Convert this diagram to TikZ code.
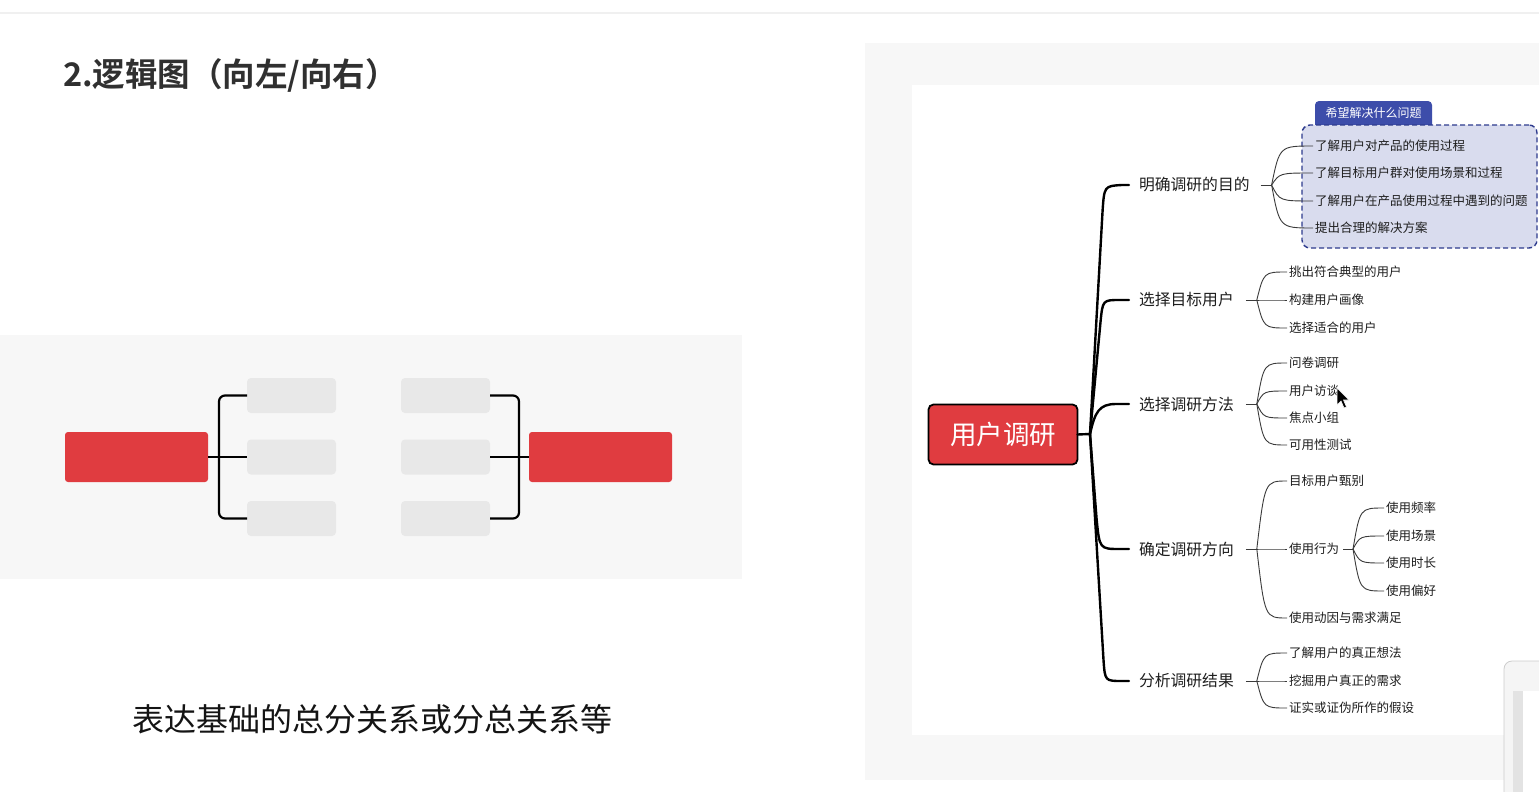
\documentclass[tikz,border=0pt]{standalone}
\usepackage{fontspec}
\setmainfont{Noto Sans CJK SC}[BoldFont={Noto Sans CJK SC Bold}]
\usetikzlibrary{calc}
\definecolor{panelgray}{HTML}{F7F7F7}
\definecolor{boxgray}{HTML}{E8E8E8}
\definecolor{myred}{HTML}{E03C40}
\definecolor{titlegray}{HTML}{303030}
\definecolor{lav}{HTML}{D9DCEE}
\definecolor{navy}{HTML}{2E3B8E}
\definecolor{tabblue}{HTML}{3D4DAA}
\definecolor{ink}{HTML}{1E1E1E}
\definecolor{subink}{HTML}{3A3A3A}
\begin{document}
\begin{tikzpicture}[x=1pt,y=-1pt,
  every node/.style={inner sep=0pt, outer sep=0pt},
  lbox/.style={fill=myred, rounded corners=3pt, minimum width=143pt, minimum height=50pt},
  gbox/.style={fill=boxgray, rounded corners=4pt, minimum width=89pt, minimum height=35pt},
  bracket/.style={draw=black, line width=2.2pt, rounded corners=6pt},
  mainlbl/.style={anchor=west, text=ink, font=\fontsize{15.8}{16}\selectfont},
  sublbl/.style={anchor=west, text=ink, font=\fontsize{12.5}{13}\selectfont},
  mainline/.style={draw=black, line width=2.4pt, line cap=round},
  subline/.style={draw=subink, line width=0.9pt},
]
\useasboundingbox (0,0) rectangle (1539,792);
\fill[white] (0,0) rectangle (1539,792);
\draw[draw=black!6, line width=2pt] (0,13) -- (1539,13);

% ---------- left panel ----------
\fill[panelgray] (0,335) rectangle (742,579);
\node[lbox] (L) at (136.5,457) {};
\node[gbox] (a1) at (291.5,395.5) {};
\node[gbox] (a2) at (291.5,457) {};
\node[gbox] (a3) at (291.5,518.5) {};
\node[gbox] (b1) at (445.5,395.5) {};
\node[gbox] (b2) at (445.5,457) {};
\node[gbox] (b3) at (445.5,518.5) {};
\node[lbox] (R) at (600.5,457) {};
\draw[bracket] (a1.west) -- ++(-28,0) |- (a3.west);
\draw[draw=black, line width=2.2pt] (L.east) -- (a2.west);
\draw[bracket] (b1.east) -- ++(29,0) |- (b3.east);
\draw[draw=black, line width=2.2pt] (b2.east) -- (R.west);

\node[anchor=west, text=titlegray, font=\fontsize{32.5}{38}\selectfont\bfseries] (title) at (63,75) {2.逻辑图（向左/向右）};
\node[text=black!92, font=\fontsize{32}{38}\selectfont] (caption) at (372,719) {表达基础的总分关系或分总关系等};

% ---------- right panel ----------
\fill[panelgray] (865,43) rectangle (1539,780);
\fill[white] (912,85) rectangle (1539,735);

\node[draw=black, line width=1.8pt, fill=myred, rounded corners=5pt, minimum width=149pt, minimum height=60pt, text=white, font=\fontsize{26.5}{30}\selectfont] (root) at (1003,434.5) {用户调研};
\coordinate (hub) at (1090,434);
\draw[mainline] (root.east) -- (hub);

\node[mainlbl] (m1) at (1139,185) {明确调研的目的};
\node[mainlbl] (m2) at (1139,300) {选择目标用户};
\node[mainlbl] (m3) at (1139,404) {选择调研方法};
\node[mainlbl] (m4) at (1139,549) {确定调研方向};
\node[mainlbl] (m5) at (1139,681) {分析调研结果};

\draw[mainline] (hub) -- (1102.5,212) .. controls (1104.2,186) .. (1122,185) -- ([xshift=-10]m1.west);
\draw[mainline] (hub) -- (1100.5,322) .. controls (1102.7,300) .. (1120,300) -- ([xshift=-10]m2.west);
\draw[mainline] (hub) .. controls (1095,412) and (1099,404) .. (1116,404) -- ([xshift=-10]m3.west);
\draw[mainline] (hub) -- (1096.5,518) .. controls (1099.5,549) .. (1120,549) -- ([xshift=-10]m4.west);
\draw[mainline] (hub) -- (1103.5,660) .. controls (1105,681) .. (1122,681) -- ([xshift=-10]m5.west);

% purpose box
\fill[tabblue, rounded corners=4pt] (1315,130) rectangle (1432,101);
\node[draw=navy, line width=1.4pt, dash pattern=on 5pt off 3pt, fill=lav, rounded corners=8pt, minimum width=235pt, minimum height=123pt] (pbox) at (1419.5,186.5) {};
\node[text=white, font=\fontsize{12}{13}\selectfont] (tab) at (1373.5,112.5) {希望解决什么问题};

% children texts
\node[sublbl] (p1) at (1315,146) {了解用户对产品的使用过程};
\node[sublbl] (p2) at (1315,173) {了解目标用户群对使用场景和过程};
\node[sublbl] (p3) at (1315,201) {了解用户在产品使用过程中遇到的问题};
\node[sublbl] (p4) at (1315,228) {提出合理的解决方案};

\node[sublbl] (s1) at (1289,272) {挑出符合典型的用户};
\node[sublbl] (s2) at (1289,300) {构建用户画像};
\node[sublbl] (s3) at (1289,328) {选择适合的用户};

\node[sublbl] (t1) at (1289,363) {问卷调研};
\node[sublbl] (t2) at (1289,391) {用户访谈};
\node[sublbl] (t3) at (1289,418) {焦点小组};
\node[sublbl] (t4) at (1289,445) {可用性测试};

\node[sublbl] (q1) at (1289,481) {目标用户甄别};
\node[sublbl] (u) at (1289,549) {使用行为};
\node[sublbl] (q3) at (1289,618) {使用动因与需求满足};

\node[sublbl] (g1) at (1386,508) {使用频率};
\node[sublbl] (g2) at (1386,536) {使用场景};
\node[sublbl] (g3) at (1386,563) {使用时长};
\node[sublbl] (g4) at (1386,591) {使用偏好};

\node[sublbl] (r1) at (1289,653) {了解用户的真正想法};
\node[sublbl] (r2) at (1289,681) {挖掘用户真正的需求};
\node[sublbl] (r3) at (1289,708) {证实或证伪所作的假设};

% fans
\draw[subline] ([xshift=11]m1.east) -- ++(11,0) coordinate (f1);
\foreach \c in {p1,p2,p3,p4}
  \draw[subline] (f1) .. controls ($(f1 |- \c.west)+(8,0)$) .. ([xshift=-2]\c.west);
\draw[subline] ([xshift=12]m2.east) -- ++(11,0) coordinate (f2);
\foreach \c in {s1,s2,s3}
  \draw[subline] (f2) .. controls ($(f2 |- \c.west)+(7,0)$) .. ([xshift=-2]\c.west);
\draw[subline] ([xshift=12]m3.east) -- ++(11,0) coordinate (f3);
\foreach \c in {t1,t2,t3,t4}
  \draw[subline] (f3) .. controls ($(f3 |- \c.west)+(7,0)$) .. ([xshift=-2]\c.west);
\draw[subline] ([xshift=12]m4.east) -- ++(11,0) coordinate (f4);
\foreach \c in {q1,u,q3}
  \draw[subline] (f4) .. controls ($(f4 |- \c.west)+(8,0)$) .. ([xshift=-2]\c.west);
\draw[subline] ([xshift=4]u.east) -- ++(10,0) coordinate (f6);
\foreach \c in {g1,g2,g3,g4}
  \draw[subline] (f6) .. controls ($(f6 |- \c.west)+(7,0)$) .. ([xshift=-2]\c.west);
\draw[subline] ([xshift=12]m5.east) -- ++(11,0) coordinate (f5);
\foreach \c in {r1,r2,r3}
  \draw[subline] (f5) .. controls ($(f5 |- \c.west)+(7,0)$) .. ([xshift=-2]\c.west);

% mouse cursor
\filldraw[fill=black, draw=white, line width=0.6pt] (1337,388) -- ++(0,17) -- ++(4,-4) -- ++(3,7) -- ++(2.5,-1) -- ++(-3,-7) -- ++(5.5,0) -- cycle;

% bottom-right widget
\filldraw[fill=black!4, draw=black!20, line width=0.8pt, rounded corners=8pt] (1504,800) -- (1504,661) -- (1560,661) -- (1560,800) -- cycle;
\fill[black!11] (1513,691) rectangle (1523,800);
\fill[white] (1523,691) rectangle (1560,800);
\end{tikzpicture}
\end{document}
